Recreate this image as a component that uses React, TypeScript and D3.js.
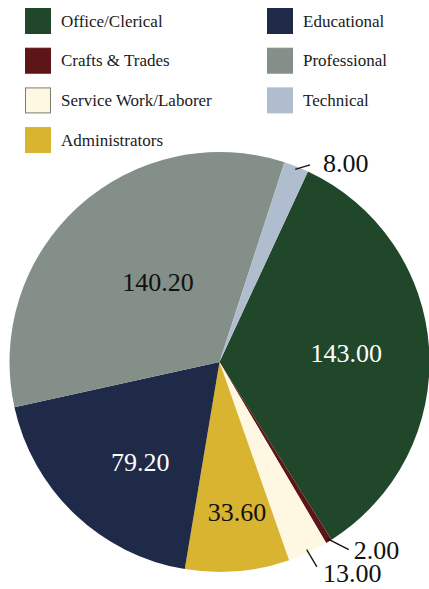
import React from "react";
import * as d3 from "d3";

// slice order, clockwise, starting just right of 12 o'clock
const categories = [
  "Office/Clerical",
  "Crafts & Trades",
  "Service Work/Laborer",
  "Administrators",
  "Educational",
  "Professional",
  "Technical",
];
const values = [143.0, 2.0, 13.0, 33.6, 79.2, 140.2, 8.0];
const colors = ["#21472a", "#5e1518", "#fef8e2", "#d8b431", "#1f2a48", "#838f88", "#b0bdcf"];

// legend is laid out in two columns
const legendCols = [
  ["Office/Clerical", "Crafts & Trades", "Service Work/Laborer", "Administrators"],
  ["Educational", "Professional", "Technical"],
];

const width = 429;
const height = 589;
const cx = 219.5;
const cy = 362;
const radius = 210;
const startDeg = 24.9;
const font = '"Liberation Serif"';

// how far out the inside labels sit (fraction of radius)
const insideLabel: Record<string, { r: number; da: number; fill: string }> = {
  "Office/Clerical": { r: 0.605, da: 0, fill: "#ffffff" },
  "Administrators": { r: 0.72, da: -1.7, fill: "#111111" },
  "Educational": { r: 0.61, da: -5.3, fill: "#ffffff" },
  "Professional": { r: 0.48, da: 4.6, fill: "#111111" },
};
// leader-line callouts for the thin slices
const outsideLabel: Record<string, { da: number; r1: number; dx: number; dy: number }> = {
  "Crafts & Trades": { da: -3.2, r1: 1.085, dx: 5, dy: 1 },
  "Service Work/Laborer": { da: -0.5, r1: 1.08, dx: 6, dy: 7 },
  "Technical": { da: 3.2, r1: 1.033, dx: 13, dy: -1 },
};

const App: React.FC = () => {
  const pie = d3
    .pie<number>()
    .sort(null)
    .value((d) => d)
    .startAngle((startDeg * Math.PI) / 180)
    .endAngle((startDeg * Math.PI) / 180 + 2 * Math.PI);
  const arcs = pie(values);
  const arc = d3.arc<d3.PieArcDatum<number>>().innerRadius(0).outerRadius(radius);

  const polar = (deg: number, r: number): [number, number] => {
    const a = (deg * Math.PI) / 180;
    return [Math.sin(a) * r, -Math.cos(a) * r];
  };

  return (
    <svg width={width} height={height} style={{ position: "absolute", left: 0, top: 0 }}>
      <g>
        {legendCols.map((col, ci) =>
          col.map((name, ri) => {
            const i = categories.indexOf(name);
            const x = ci === 0 ? 25 : 267;
            const y = 8 + ri * 39.7;
            return (
              <g key={name}>
                <rect x={x + 0.5} y={y + 0.5} width={25} height={25} fill={colors[i]}
                  stroke={name === "Service Work/Laborer" ? "#7c7c74" : colors[i]} strokeWidth={1} />
                <text x={x + 36} y={y + 13} dominantBaseline="central" fontSize={17} fill="#1a1a1a"
                  style={{ fontFamily: font }}>
                  {name}
                </text>
              </g>
            );
          })
        )}
      </g>
      <g transform={`translate(${cx},${cy})`}>
        {arcs.map((a, i) => (
          <path key={categories[i]} d={arc(a) ?? ""} fill={colors[i]} />
        ))}
        {arcs.map((a, i) => {
          const name = categories[i];
          const mid = (((a.startAngle + a.endAngle) / 2) * 180) / Math.PI;
          const inL = insideLabel[name];
          if (inL) {
            const [x, y] = polar(mid + inL.da, radius * inL.r);
            return (
              <text key={name} x={x} y={y} textAnchor="middle" dominantBaseline="central"
                fontSize={26} fill={inL.fill} style={{ fontFamily: font }}>
                {values[i].toFixed(2)}
              </text>
            );
          }
          const o = outsideLabel[name];
          const [x0, y0] = polar(mid, radius * 0.985);
          const [x1, y1] = polar(mid + o.da, radius * o.r1);
          return (
            <g key={name}>
              <line x1={x0} y1={y0} x2={x1} y2={y1} stroke="#111" strokeWidth={1.3} />
              <text x={x1 + o.dx} y={y1 + o.dy} dominantBaseline="central" fontSize={26} fill="#111"
                style={{ fontFamily: font }}>
                {values[i].toFixed(2)}
              </text>
            </g>
          );
        })}
      </g>
    </svg>
  );
};

export default App;
